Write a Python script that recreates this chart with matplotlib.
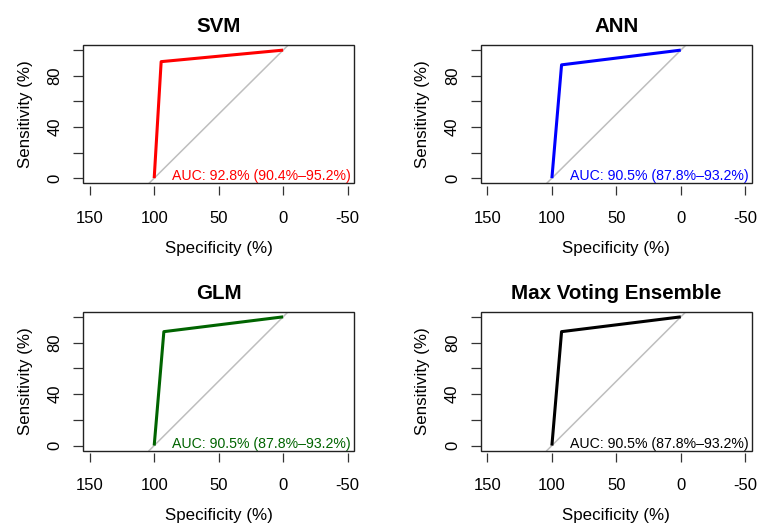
import matplotlib
matplotlib.use("Agg")
import matplotlib.pyplot as plt
from matplotlib.patches import Rectangle

# --- дані з рисунка ---
models = ["SVM", "ANN", "GLM", "Max Voting Ensemble"]
colors = ["#FF0000", "#0000FF", "#006400", "#000000"]
specificity = [94.6, 92.5, 92.5, 92.5]   # точка перегину ROC
sensitivity = [91.0, 88.5, 88.5, 88.5]
auc = [92.8, 90.5, 90.5, 90.5]
ci_low = [90.4, 87.8, 87.8, 87.8]
ci_high = [95.2, 93.2, 93.2, 93.2]

x_ticks = [150, 100, 50, 0, -50]
y_ticks = [0, 20, 40, 60, 80, 100]
y_labels = ["0", "", "40", "", "80", ""]

plt.rcParams["font.family"] = ["Liberation Sans", "DejaVu Sans"]

W, H = 757, 523
fig = plt.figure(figsize=(W / 100, H / 100), dpi=100)

# рамки панелей у пікселях: (ліво, верх, право, низ)
boxes = [
    (83.3, 45.0, 354.0, 183.3),
    (481.0, 45.0, 751.7, 183.3),
    (83.3, 311.7, 354.0, 450.7),
    (481.0, 311.7, 751.7, 450.7),
]

for i, name in enumerate(models):
    l, t, r, b = boxes[i]
    ax = fig.add_axes([l / W, 1 - b / H, (r - l) / W, (b - t) / H])
    ax.set_xlim(155, -55)
    ax.set_ylim(-4, 104)

    # діагональ
    ax.axline((100, 0), (0, 100), color="#BEBEBE", lw=1.1, zorder=1)

    # ROC крива
    xs = [100, specificity[i], 0]
    ys = [0, sensitivity[i], 100]
    ax.plot(xs, ys, color=colors[i], lw=2.2, zorder=3, solid_capstyle="butt")

    ax.text(-52.5, 1.5, f"AUC: {auc[i]:.1f}% ({ci_low[i]:.1f}%\u2013{ci_high[i]:.1f}%)",
            color=colors[i], fontsize=10.2, ha="right", va="center", zorder=4)

    # рамка і осі в стилі R
    for s in ["top", "right", "left"]:
        ax.spines[s].set_visible(False)
    ax.spines["bottom"].set_position(("outward", 2))
    ax.spines["bottom"].set_visible(False)
    ax.add_patch(Rectangle((0, 0), 1, 1, transform=ax.transAxes, fill=False,
                           ec="#222222", lw=1.0, clip_on=False, zorder=5))

    ax.set_xticks(x_ticks)
    ax.set_xticklabels([str(v) for v in x_ticks])
    ax.set_yticks(y_ticks)
    ax.set_yticklabels(y_labels, rotation=90, va="center")
    ax.tick_params(axis="x", length=6.5, width=0.9, color="#333333", labelsize=12, pad=11.5)
    ax.tick_params(axis="y", length=7.2, width=0.9, color="#333333", labelsize=12, pad=8)

    ax.set_xlabel("Specificity (%)", fontsize=12.2)
    ax.xaxis.set_label_coords(0.5, -65 / (b - t))
    ax.xaxis.label.set_va("center")
    ax.set_ylabel("Sensitivity (%)", fontsize=12.2)
    ax.yaxis.set_label_coords(-58 / (r - l), 0.5)
    ax.yaxis.label.set_va("center")

    ax.set_title(name, fontsize=14.8, fontweight="bold", y=1 + 18.5 / (b - t),
                 va="center", pad=0)

fig.savefig("out.png", dpi=100)
